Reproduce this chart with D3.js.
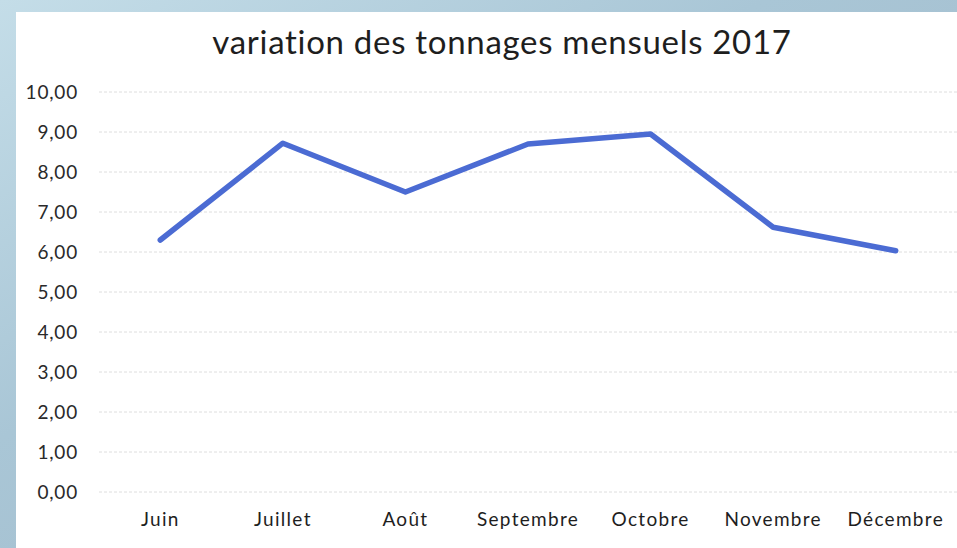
<!DOCTYPE html>
<html>
<head>
<meta charset="utf-8">
<script src="https://cdn.jsdelivr.net/npm/d3@7"></script>
<style>
  html, body { margin: 0; padding: 0; background: #fff; }
  svg { display: block; }
</style>
</head>
<body>
<div id="chart"></div>
<script>
// Data
const months = ['Juin', 'Juillet', 'Août', 'Septembre', 'Octobre', 'Novembre', 'Décembre'];
const tonnages = [6.3, 8.72, 7.5, 8.7, 8.95, 6.62, 6.03];
const yTicks = [0, 1, 2, 3, 4, 5, 6, 7, 8, 9, 10];
const title = 'variation des tonnages mensuels 2017';

const width = 957;
const height = 548;
const margin = { top: 92, right: 0, bottom: 56, left: 99 };
const font = 'Lato, "Open Sans", sans-serif';

const svg = d3.select('#chart')
    .append('svg')
    .attr('width', width)
    .attr('height', height);

// Blue frame (left and top strip of the scan)
const defs = svg.append('defs');
const grad = defs.append('linearGradient')
    .attr('id', 'frame')
    .attr('x1', '0').attr('y1', '0')
    .attr('x2', '1').attr('y2', '1');
grad.append('stop').attr('offset', '0%').attr('stop-color', '#c4dde8');
grad.append('stop').attr('offset', '40%').attr('stop-color', '#a9c6d6');
grad.append('stop').attr('offset', '100%').attr('stop-color', '#9fb6c7');

svg.append('rect')
    .attr('width', width)
    .attr('height', height)
    .attr('fill', 'url(#frame)');

svg.append('rect')
    .attr('x', 16)
    .attr('y', 12)
    .attr('width', width - 16)
    .attr('height', height - 12)
    .attr('fill', '#ffffff');

const x = d3.scaleBand()
    .domain(months)
    .range([margin.left, width - margin.right]);

const y = d3.scaleLinear()
    .domain([0, 10])
    .range([height - margin.bottom, margin.top]);

// Title
svg.append('text')
    .attr('x', 502)
    .attr('y', 54)
    .attr('text-anchor', 'middle')
    .style('font-family', font)
    .style('font-size', '33px')
    .style('letter-spacing', '0.7px')
    .style('fill', '#1e1e1e')
    .text(title);

// Gridlines
svg.append('g')
    .selectAll('line')
    .data(yTicks)
    .enter()
    .append('line')
    .attr('x1', margin.left)
    .attr('x2', width)
    .attr('y1', d => y(d))
    .attr('y2', d => y(d))
    .attr('stroke', '#dedede')
    .attr('stroke-width', 1)
    .attr('stroke-dasharray', '3,2');

// Y axis labels
const yAxis = svg.append('g')
    .attr('transform', `translate(78,0)`)
    .call(d3.axisLeft(y)
        .tickValues(yTicks)
        .tickSize(0)
        .tickPadding(0)
        .tickFormat(d => d3.format('.2f')(d).replace('.', ',')));
yAxis.select('.domain').remove();
yAxis.selectAll('text')
    .style('font-family', font)
    .style('font-size', '19px')
    .style('letter-spacing', '0.8px')
    .style('fill', '#2a2a2a');

// X axis labels
const xAxis = svg.append('g')
    .attr('transform', `translate(0,${height - margin.bottom})`)
    .call(d3.axisBottom(x).tickSize(0).tickPadding(21));
xAxis.select('.domain').remove();
xAxis.selectAll('text')
    .style('font-family', font)
    .style('font-size', '19px')
    .style('letter-spacing', '1.3px')
    .style('fill', '#1e1e1e');

// Line
const line = d3.line()
    .x((d, i) => x(months[i]) + x.bandwidth() / 2)
    .y(d => y(d));

svg.append('path')
    .datum(tonnages)
    .attr('d', line)
    .attr('fill', 'none')
    .attr('stroke', '#4b6bd3')
    .attr('stroke-width', 5.5)
    .attr('stroke-linejoin', 'round')
    .attr('stroke-linecap', 'round');
</script>
</body>
</html>
